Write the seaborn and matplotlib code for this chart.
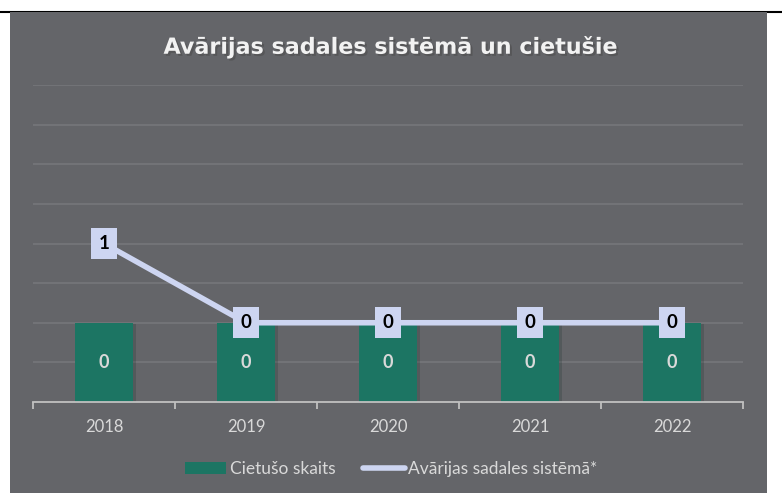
import matplotlib
matplotlib.use('Agg')
import matplotlib.pyplot as plt
import matplotlib.patheffects as pe
from matplotlib.patches import Rectangle, Patch
from matplotlib.lines import Line2D
import seaborn as sns
import pandas as pd

# dati
gadi = ['2018', '2019', '2020', '2021', '2022']
cietusie = [0, 0, 0, 0, 0]
avarijas = [1, 0, 0, 0, 0]
ass_min, ass_max = -1, 3

bg = '#646569'
bar_col = '#1c7563'
line_col = '#cdd5f1'
txt_col = '#d9d9d9'

sns.set_theme(style='dark')
plt.rcParams['font.family'] = ['Lato', 'DejaVu Sans']

df = pd.DataFrame({'gads': gadi, 'cietusie': cietusie, 'avarijas': avarijas})
# stabiņi sākas no ass apakšas (kā Excel)
df['stabs'] = df['cietusie'] - ass_min

fig = plt.figure(figsize=(7.82, 4.93), dpi=100)
fig.patch.set_facecolor('white')
# melna līnija augšā un pelēkais fons
fig.add_artist(Line2D([0, 1], [1 - 11.5 / 493] * 2, color='black', lw=1.5,
                      transform=fig.transFigure, zorder=-2))
fig.add_artist(Rectangle((10 / 782, 0), (767 - 10) / 782, (493 - 12) / 493,
                         transform=fig.transFigure, facecolor=bg, edgecolor='none', zorder=-1))

ax = fig.add_axes([33 / 782, (493 - 402) / 493, (743 - 33) / 782, (402 - 85) / 493])
ax.set_facecolor('none')

sns.barplot(data=df, x='gads', y='stabs', color=bar_col, width=0.415,
            saturation=1, linewidth=0, edgecolor='none', ax=ax, zorder=2)
for p in ax.patches:
    p.set_y(ass_min)
    p.set_path_effects([pe.SimplePatchShadow(offset=(1.5, -1), alpha=0.18), pe.Normal()])

sns.lineplot(data=df, x='gads', y='avarijas', color=line_col, lw=4, ax=ax, zorder=3,
             solid_capstyle='round')

ax.set_xlim(-0.5, 4.5)
ax.set_ylim(ass_min, ass_max)
ax.set_yticks([ass_min + 0.5 * i for i in range(9)])
ax.yaxis.grid(True, color='#76777b', lw=1.2)
ax.xaxis.grid(False)
ax.tick_params(axis='y', left=False, labelleft=False)
for s in ['top', 'left', 'right']:
    ax.spines[s].set_visible(False)
ax.spines['bottom'].set_color('#c0c0c0')
ax.spines['bottom'].set_linewidth(1.3)
ax.set_xticks(range(len(gadi)))
ax.set_xticklabels(gadi)
ax.set_xticks([i - 0.5 for i in range(len(gadi) + 1)], minor=True)
ax.tick_params(axis='x', which='major', length=0, labelsize=12, labelcolor=txt_col, pad=12)
ax.tick_params(axis='x', which='minor', length=5, width=1.3, color='#c0c0c0', bottom=True, direction='out')
ax.set_xlabel('')
ax.set_ylabel('')

# datu etiķetes
for i, v in enumerate(cietusie):
    ax.text(i, (ass_min + v) / 2, str(v), ha='center', va='center', color=txt_col,
            fontsize=13, fontweight='bold', zorder=4)
for i, v in enumerate(avarijas):
    ax.text(i, v, str(v), ha='center', va='center', color='black', fontsize=13.5,
            fontweight='bold', zorder=5,
            bbox=dict(boxstyle='square,pad=0.38', facecolor=line_col, edgecolor='none'))

fig.text(0.5, 1 - 47 / 493, 'Avārijas sadales sistēmā un cietušie', ha='center', va='center',
         color='#f2f2f2', fontsize=16, fontweight='bold', family=['DejaVu Sans'],
         path_effects=[pe.withSimplePatchShadow(offset=(1.5, -1.5), alpha=0.5)])

handles = [Patch(facecolor=bar_col, edgecolor='none', label='Cietušo skaits'),
           Line2D([0], [0], color=line_col, lw=4, solid_capstyle='round', label='Avārijas sadales sistēmā*')]
leg = fig.legend(handles=handles, loc='center', bbox_to_anchor=(0.5, 1 - 469 / 493), ncol=2,
                 frameon=False, fontsize=12.5, labelcolor=txt_col, handlelength=2.4,
                 handletextpad=0.2, columnspacing=1.6)

fig.savefig('out.png', dpi=100, facecolor='white')
